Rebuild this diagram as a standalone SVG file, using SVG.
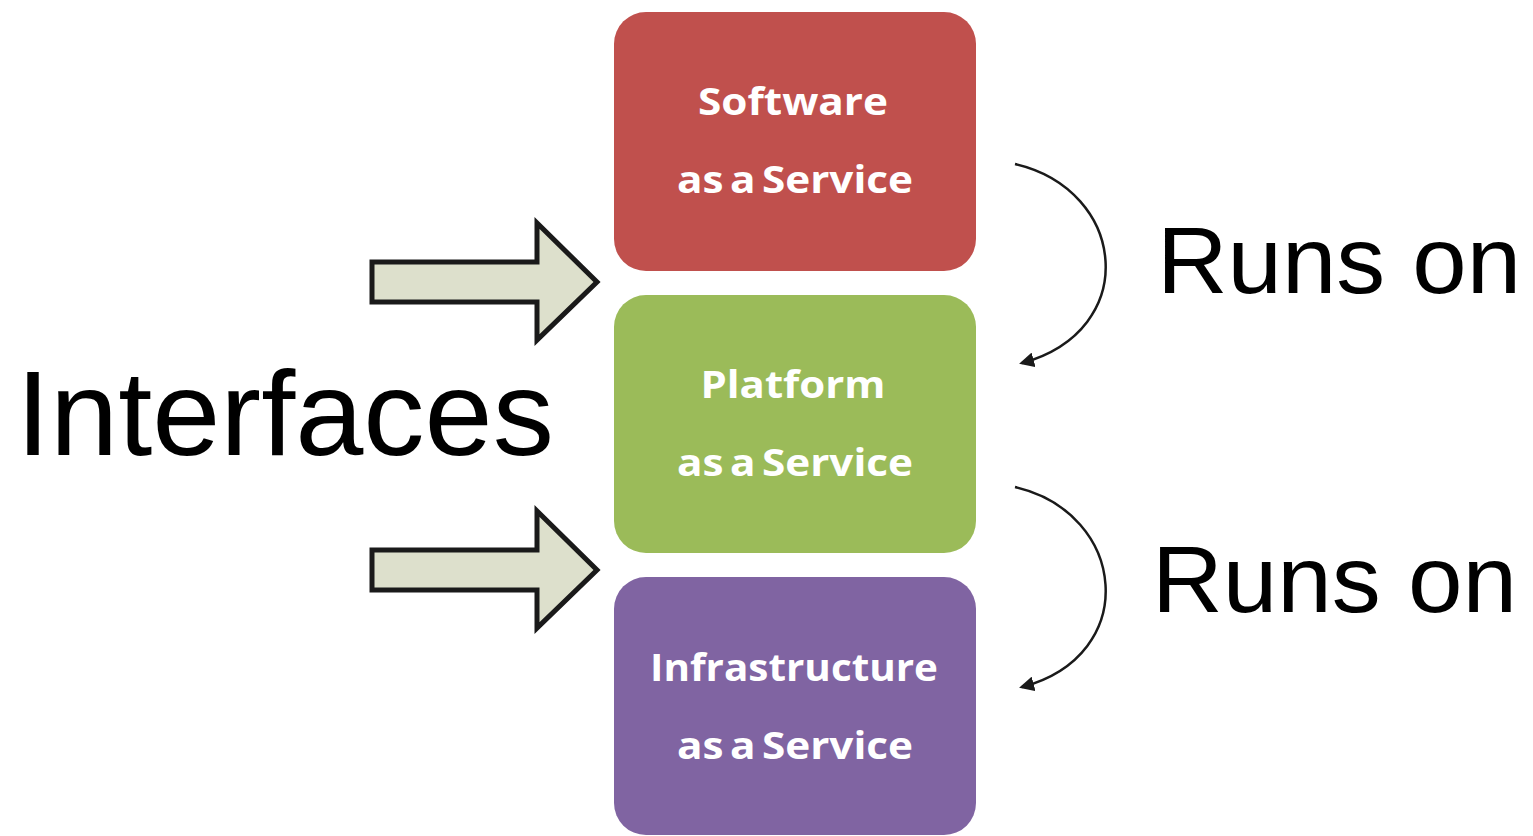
<svg xmlns="http://www.w3.org/2000/svg" width="1533" height="836" viewBox="0 0 1533 836">
<defs>
<style>
.box{stroke:none}
.bt{font-family:"Open Sans","Liberation Sans",sans-serif;font-weight:bold;font-size:37px;fill:#ffffff;text-anchor:middle;word-spacing:-4px}
.big{font-family:"Liberation Sans",Arial,sans-serif;fill:#000000}
.fat{fill:#dde0cc;stroke:#1a1a1a;stroke-width:5;stroke-linejoin:miter}
.curve{fill:none;stroke:#1a1a1a;stroke-width:2.5}
</style>
<marker id="ah" viewBox="0 0 10 10" refX="8" refY="5" markerWidth="6" markerHeight="6" orient="auto" markerUnits="strokeWidth">
<path d="M0,0 L10,5 L0,10 z" fill="#1a1a1a"/>
</marker>
</defs>
<rect width="1533" height="836" fill="#ffffff"/>
<g id="saas">
<rect class="box" x="614" y="12" width="362" height="259" rx="32" fill="#c0504d"/>
<text class="bt" x="793" y="115" textLength="190" lengthAdjust="spacingAndGlyphs">Software</text>
<text class="bt" x="795" y="193" textLength="236" lengthAdjust="spacingAndGlyphs">as a Service</text>
</g>
<g id="paas">
<rect class="box" x="614" y="295" width="362" height="258" rx="32" fill="#9bbb59"/>
<text class="bt" x="793" y="398" textLength="185" lengthAdjust="spacingAndGlyphs">Platform</text>
<text class="bt" x="795" y="476" textLength="236" lengthAdjust="spacingAndGlyphs">as a Service</text>
</g>
<g id="iaas">
<rect class="box" x="614" y="577" width="362" height="258" rx="32" fill="#8064a2"/>
<text class="bt" x="794" y="681" textLength="288" lengthAdjust="spacingAndGlyphs">Infrastructure</text>
<text class="bt" x="795" y="759" textLength="236" lengthAdjust="spacingAndGlyphs">as a Service</text>
</g>
<g id="interfaces">
<text class="big" x="16" y="455" font-size="120" textLength="538" lengthAdjust="spacingAndGlyphs">Interfaces</text>
</g>
<g id="runs1">
<text class="big" x="1157" y="293" font-size="94" textLength="364" lengthAdjust="spacingAndGlyphs">Runs on</text>
</g>
<g id="runs2">
<text class="big" x="1152" y="612" font-size="94" textLength="365" lengthAdjust="spacingAndGlyphs">Runs on</text>
</g>
<g id="connectors">
<path class="fat" d="M372,262 L537,262 L537,223 L597,282 L537,340 L537,302 L372,302 Z"/>
<path class="fat" d="M372,550 L537,550 L537,511 L597,570 L537,628 L537,590 L372,590 Z"/>
<path class="curve" marker-end="url(#ah)" d="M1015,164 C1127,190 1142,330 1022,363"/>
<path class="curve" marker-end="url(#ah)" d="M1015,487 C1127,513 1142,655 1022,687"/>
</g>
</svg>
